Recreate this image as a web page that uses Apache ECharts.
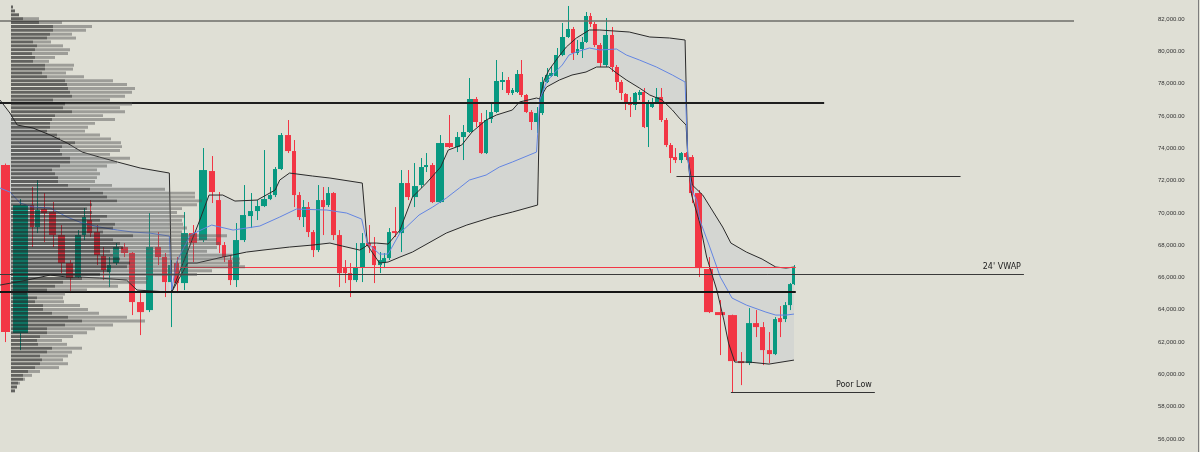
<!DOCTYPE html>
<html><head><meta charset="utf-8">
<script src="https://cdn.jsdelivr.net/npm/echarts/dist/echarts.min.js"></script>
<style>html,body{margin:0;padding:0;background:#dfdfd5;}#c{width:1200px;height:452px;}</style>
</head><body><div id="c"></div>
<script>
// ---- candles: [open, close, low, high] ----
const candles = [
[72960,62619,62000,73050],[62557,70483,61504,70850],[70483,69121,67882,71597],[69121,70173,68749,72031],[70235,69988,68192,71226],
[70049,68625,67882,70668],[68625,66892,66272,69245],[66892,65963,65034,67077],[66025,68625,65963,68935],[68625,69740,68316,70297],
[69554,68749,68501,70792],[68811,67387,66768,69245],[67325,66458,65839,67882],[66334,66768,65406,67263],[66892,67882,66768,68130],
[67882,67511,67263,68130],[67511,64477,63672,67573],[64477,63857,62433,65034],[63981,67882,63857,69988],[67882,67263,66768,68811],
[67263,65715,64786,67511],[65715,66768,62929,67077],[66892,65653,65034,67263],[65653,68749,65220,70049],[68749,68130,66954,69245],
[68316,72650,68192,74012],[72588,71288,70607,73517],[70792,68006,67511,71288],[68006,67263,66954,68192],[67077,65839,65529,67387],
[65839,68316,65406,69368],[68316,69864,68192,71721],[69802,70111,69059,71226],[70111,70421,69554,70792],[70421,70854,70359,73888],
[70854,71102,70792,71597],[71102,72712,70978,72836],[72712,74817,72650,74941],[74817,73826,73702,75746],[73826,71102,70359,74508],
[71102,69740,69554,71288],[69740,70359,69121,70792],[70359,68811,68501,70668],[68811,67696,67263,68935],[67696,70792,67573,71721],
[70792,70359,68625,71597],[70483,71226,70359,71597],[71226,68625,68316,71288],[68625,66272,65406,68935],[66582,66272,65653,67077],
[66272,65839,64786,66892],[65839,66644,65715,68130],[66644,68130,65715,68749],[68130,67944,67511,69245],[67944,66768,65653,68501],
[66768,67077,66272,67573],[66892,67201,66582,67511],[67201,68811,67077,69059],[68873,68749,68501,70359],[68749,71845,67573,72650],
[71845,70978,70792,72650],[70978,71659,70359,73083],[71721,72836,71536,73393],[72836,72960,72526,73702],[72960,70668,70607,73083],
[70668,74322,70607,74817],[74322,74074,74012,76056],[74074,74693,73764,75003],[74693,75003,73269,75436],[75003,77046,74941,78347],
[77046,75622,75312,77170],[75622,73702,73640,76179],[73702,75746,73640,76365],[75808,76241,75560,76799],[76241,78161,76179,79461],
[78099,78223,77604,78718],[78223,77418,77294,78409],[77418,77604,77294,77728],[77480,78594,77418,78842],[78594,77294,77170,79461],
[77294,76241,76179,77356],[76241,75622,75127,76365],[75622,76179,74941,76551],[76179,78099,76056,78409],[78099,78532,78037,78966],
[78470,78656,78409,79028],[78470,79771,78409,80204],[79771,80885,79700,81752],[80885,81381,80824,82805],[81381,79895,79461,81505],
[79895,80142,79771,80700],[80142,80576,79585,80885],[80576,82186,80514,82433],[82186,81690,81505,82372],[81690,80390,80266,81814],
[80390,79276,79028,80514],[79152,81009,79028,82062],[81009,79028,78718,81505],[79028,78099,77604,79152],[78099,77418,76984,78223],
[77356,76861,76365,77418],[76861,76675,75932,77170],[76675,77418,76365,77480],[77294,77480,76984,77604],[77480,75312,75250,77728],
[75312,76861,74074,76984],[76551,76861,76489,77108],[76861,77170,76799,77728],[77170,75746,75622,77728],[75746,74198,74074,75870],
[74198,73393,72464,74322],[73455,73269,73083,74012],[73269,73702,73083,73764],[73702,73455,73269,73764],[73455,71226,70607,73579],
[71226,66582,66025,71412],[66520,63857,63795,67263],[63857,63672,61195,64600],[63672,60823,58904,63700],[60823,60700,59337,61381],
[60700,63176,60576,64105],[63176,62929,62309,63981],[62929,61504,60576,63238],[61504,61257,60700,62619],[61257,63424,61195,63548],
[63486,63238,62309,64229],[63424,64291,63238,64477],[64291,65591,63981,65653],[65591,66644,65529,66768]
];
// relative volume of each candle (volume candles: width follows volume)
const volumes = [
11,18.5,5,6,8,8.5,8.5,8.5,7.5,5.5,
6,7.5,6,5.5,8,8.5,7.5,9,9,7.5,
6.5,5.5,6.5,8.5,9.5,10,8,6,5.5,5.5,
7,8,6.5,6,7,5.5,5,6.5,7,5.5,
4.5,4.5,4.5,5,5.5,5,4.5,6,6,5,
5.5,6.5,6.5,6,5.5,5,4.5,5,6.5,6.5,
6.5,7,6,5,6,9.5,9.5,6,6,7,
6,5,4.5,5,6,6,5,4,4.5,5,
5,5,5.5,5,4.5,5,5.5,6,5.5,4.5,
4,4.5,4.5,4,4.5,6,6.5,5,4.5,4.5,
4.5,5,4.5,4.5,4,4,4.5,4.5,5,4.5,
4.5,5.5,5.5,5,6,8.5,11,12.5,11,7.5,
7,7.5,6.5,6,5.5,5,5,4.5,4
];
const futureBars = 57;

// ---- anchored VWAP + bands, points are [barIndex, price] ----
const upperA = [[-0.5,76984],[0.3,76179],[0.8,75436],[2.2,75250],[4.7,74817],[6.7,74322],[8.7,73764],[11.4,73455],[14.2,73145],[17,72774],[20.8,72464]];
const lowerA = [[-0.5,65529],[1.6,65839],[4.7,66149],[6.7,66025],[8.3,66025],[11.4,65963],[15.3,65839],[16.6,65220],[20.8,65096]];
const vwapA  = [[-0.5,71536],[0.3,71288],[1,70607],[2.2,70359],[4.7,70297],[6.7,69740],[8.7,69368],[11.4,69121],[14.2,68935],[16.1,68811],[18,68749],[20.8,68563]];
const upperB = [[21.2,65096],[24.7,69554],[25.7,71102],[27.7,71102],[29.8,70730],[33,70792],[34.4,71102],[36,71412],[36.8,72031],[38.3,72464],[43,72279],[46.4,72155],[52,71845]];
const lowerB = [[21.2,65096],[23.4,66892],[24.4,66892],[27.7,67263],[31.4,67573],[33.9,67696],[38.3,67882],[43,68006],[46.4,68130],[48.6,67944],[51.6,67696],[52.4,67882]];
const vwapB  = [[21.2,65220],[22,66954],[23.7,68625],[25.5,69121],[26,69245],[29.5,68935],[33.4,69183],[36.8,69740],[39.5,70235],[45.8,70173],[49.4,69988],[51.9,69616]];
const upperC = [[52.8,68130],[54.4,68130],[56.8,68068],[58.8,68935],[60.7,70978],[63,71845],[65.1,72836],[65.9,73888],[67.8,74198],[69.4,75003],[72,75746],[74,76056],[77,76365],[78.6,76861],[82,77108]];
const lowerC = [[52.8,68006],[55,66892],[56.8,66954],[58.8,67263],[60.7,67573],[65.7,68749],[68.6,69245],[73.3,69740],[77,70049],[82.2,70483]];
const vwapC  = [[52.8,68130],[55,67449],[56.8,67449],[58.8,68749],[59.8,69121],[61.7,69864],[64.1,70359],[65.7,70916],[67.4,71536],[69,72031],[72,72341],[74.5,72836],[77,73145],[82,73764]];
const upperD = [[82.6,77046],[83.5,78223],[84.5,78842],[86.2,79585],[87.7,80266],[89.8,80824],[92.8,81319],[95,81319],[100.8,81195],[105.5,80885],[109.8,80824],[112.8,80700]];
const lowerD = [[82.6,77046],[84,77790],[86.5,78223],[88.8,78532],[92,78718],[94.4,79028],[96.5,79028],[98,78656],[100.2,78223],[103,77728],[105.5,77294],[108.2,76984],[110.4,76365],[111.7,75870],[113,75436]];
const vwapD  = [[82.6,76984],[84,78099],[85.2,78532],[87,79152],[88.2,79771],[89.8,79957],[92.8,80204],[95,80080],[98,80142],[100.2,79771],[103,79461],[107,79028],[110.4,78532],[112.8,78099]];
const upperE = [[113.3,73455],[114.1,71721],[115.4,71102],[116.3,70173],[117.2,69121],[117.9,68130],[119.7,67573],[121.9,67139],[124.2,66644],[126.2,66582],[128,66644]];
const lowerE = [[113.3,73455],[114,71102],[115.1,69368],[115.8,67263],[116.7,65220],[117.3,63362],[117.7,61938],[118.3,60761],[120.1,60761],[123,60638],[128,60885]];
const vwapE  = [[113.3,73455],[114,71412],[114.7,70792],[115.1,69554],[116.1,67882],[117,66025],[118,64724],[119.7,64291],[122.5,63857],[124.2,63672],[126.2,63672],[128,63734]];

// ---- volume profile (price bins from top) ----
const vpTop = 82740, vpBinSize = 240;
const vpDark = [2,4,8,12,28,42,42,39,36,22, 26,24,21,24,22,34,34,31,36,54, 56,57,59,61,42,54,52,61,44,41,
 39,39,36,46,49,64,51,49,51,59, 59,49,41,44,47,47,57,79,92,96, 106,81,76,81,96,89,104,102,92,122,
 102,109,112,99,102,109,119,116,99,89, 71,52,44,36,16,26,24,32,32,41, 57,71,54,36,36,29,26,27,41,36,
 29,31,29,24,17,12,12,7,6,4];
const vpLight = [0,0,0,16,23,39,33,22,29,18, 26,35,36,20,16,29,28,24,37,48, 60,67,62,53,57,67,57,53,48,63,
 45,38,38,43,51,46,60,60,48,60, 47,47,45,45,39,37,44,75,92,88, 85,105,95,85,78,82,68,74,79,94,
 104,100,94,97,119,120,110,118,102,97, 66,84,63,40,38,26,29,37,45,47, 59,63,48,48,40,33,25,29,30,25,
 28,21,28,24,12,9,2,2,0,0];

// ---- horizontal levels: [startBar, endBar, price] ----
const levels = [[-0.5,174.4,81900],[-0.5,133,76820],[111.2,155.6,72280],[22.5,128.3,66660],[-0.5,166.1,66190],[-0.5,128.3,65100],[117.9,141.4,58890]];
const levelLabels = ['', '', '', '', "24' VWAP", '', 'Poor Low'];
const priceMin = 56000, priceMax = 82000, priceStep = 2000;

// ---------- build ----------
const centers = []; let acc = 0;
volumes.forEach(v => { centers.push(acc + v / 2); acc += v; });
const totalVol = acc;
const avgVol = (totalVol - volumes[0] - volumes[1]) / (volumes.length - 2);
const xMax = totalVol + futureBars * avgVol;
function barX(k) {
  const n = centers.length;
  if (k <= 0) return centers[0] + k * volumes[0];
  if (k >= n - 1) return centers[n - 1] + (k - (n - 1)) * avgVol;
  const i = Math.floor(k), f = k - i;
  return centers[i] + f * (centers[i + 1] - centers[i]);
}
const toXY = pts => pts.map(p => [barX(p[0]), p[1]]);
const bands = [[upperA, lowerA], [upperB, lowerB], [upperC, lowerC], [upperD, lowerD], [upperE, lowerE]];
const upperAll = toXY([].concat(upperA, upperB, upperC, upperD, upperE));
const lowerAll = toXY([].concat(lowerA, lowerB, lowerC, lowerD, lowerE));
const vwapAll = toXY([].concat(vwapA, vwapB, vwapC, vwapD, vwapE));

const UP = '#089981', DOWN = '#f23645';
const levelStyles = [
  {color:'#6e6e68', width:1.5}, {color:'#1e1e1e', width:2}, {color:'#333', width:1},
  {color:'#f23645', width:1}, {color:'#3a3a3a', width:1}, {color:'#151515', width:2}, {color:'#333', width:1}
];

const chart = echarts.init(document.getElementById('c'));
chart.setOption({
  backgroundColor: '#dfdfd5',
  animation: false,
  grid: [
    {left: 0, right: 60, top: 19, bottom: 13},
    {left: 11, width: 400, top: 19, bottom: 13}
  ],
  xAxis: [
    {type: 'value', gridIndex: 0, min: 0, max: xMax, show: false},
    {type: 'value', gridIndex: 1, min: 0, max: 400, show: false}
  ],
  yAxis: [
    {type: 'value', gridIndex: 0, position: 'right', min: priceMin, max: priceMax, interval: priceStep,
     splitLine: {show: false}, axisLine: {show: false}, axisTick: {show: false},
     axisLabel: {show: true, margin: 18, align: 'left', color: '#333', fontSize: 6, fontFamily: 'Liberation Sans',
       showMinLabel: true, showMaxLabel: true,
       formatter: v => v.toLocaleString('en-US', {minimumFractionDigits: 2, maximumFractionDigits: 2})}},
    {type: 'value', gridIndex: 1, min: priceMin, max: priceMax, show: false}
  ],
  graphic: [{type: 'rect', shape: {x: 1198, y: 0, width: 1, height: 452}, style: {fill: '#7d7d7d'}, z: 100}],
  series: [
    { // band fills
      type: 'custom', xAxisIndex: 0, yAxisIndex: 0, z: 1, silent: true, clip: false,
      data: bands.map((b, i) => [barX(b[0][0][0]), b[0][0][1], i]),
      encode: {x: 0, y: 1},
      renderItem: (params, api) => {
        const b = bands[params.dataIndex];
        const pts = b[0].map(p => api.coord([barX(p[0]), p[1]]))
          .concat(b[1].slice().reverse().map(p => api.coord([barX(p[0]), p[1]])));
        return {type: 'polygon', shape: {points: pts}, style: {fill: 'rgba(190,194,204,0.30)'}};
      }
    },
    { // candles
      type: 'custom', xAxisIndex: 0, yAxisIndex: 0, z: 3, clip: false,
      data: candles.map((d, i) => [centers[i], d[0], d[1], d[2], d[3], volumes[i]]),
      encode: {x: 0, y: [1, 2, 3, 4]},
      renderItem: (params, api) => {
        const x = api.value(0), o = api.value(1), c = api.value(2), l = api.value(3), h = api.value(4), w = api.value(5);
        const pO = api.coord([x, o]), pC = api.coord([x, c]), pL = api.coord([x, l]), pH = api.coord([x, h]);
        const bw = Math.max(2, api.size([w * 0.8, 0])[0]);
        const col = c >= o ? UP : DOWN;
        const top = Math.min(pO[1], pC[1]);
        const bh = Math.max(1, Math.abs(pO[1] - pC[1]));
        const wx = Math.round(pO[0]) + 0.5;
        return {type: 'group', children: [
          {type: 'line', shape: {x1: wx, y1: pH[1], x2: wx, y2: pL[1]}, style: {stroke: col, lineWidth: 1}},
          {type: 'rect', shape: {x: Math.round(pO[0] - bw / 2), y: top, width: Math.round(bw), height: bh}, style: {fill: col}}
        ]};
      }
    },
    {type: 'line', xAxisIndex: 0, yAxisIndex: 0, z: 4, data: upperAll, showSymbol: false, silent: true,
     lineStyle: {color: '#2a2a2a', width: 1}},
    {type: 'line', xAxisIndex: 0, yAxisIndex: 0, z: 4, data: lowerAll, showSymbol: false, silent: true,
     lineStyle: {color: '#2a2a2a', width: 1}},
    {type: 'line', xAxisIndex: 0, yAxisIndex: 0, z: 4, data: vwapAll, showSymbol: false, silent: true,
     lineStyle: {color: '#6385e2', width: 1}},
    { // volume profile
      type: 'custom', xAxisIndex: 1, yAxisIndex: 1, z: 5, silent: true, clip: false,
      data: vpDark.map((d, i) => [0, vpTop - i * vpBinSize, d, vpLight[i]]),
      encode: {x: 0, y: 1},
      renderItem: (params, api) => {
        const p = api.value(1), d = api.value(2), lt = api.value(3);
        const a = api.coord([0, p + vpBinSize * 0.38]);
        const b = api.coord([d, p - vpBinSize * 0.38]);
        const e = api.coord([d + lt, p]);
        const y = a[1], hgt = Math.max(1.5, b[1] - a[1]);
        const kids = [];
        if (d > 0) kids.push({type: 'rect', shape: {x: a[0], y, width: b[0] - a[0], height: hgt}, style: {fill: 'rgba(35,35,35,0.66)'}});
        if (lt > 0) kids.push({type: 'rect', shape: {x: b[0], y, width: e[0] - b[0], height: hgt}, style: {fill: 'rgba(85,85,85,0.48)'}});
        return {type: 'group', children: kids};
      }
    },
    { // horizontal levels
      type: 'line', xAxisIndex: 0, yAxisIndex: 0, z: 6, data: [], silent: true,
      markLine: {
        silent: true, symbol: ['none', 'none'], animation: false,
        data: levels.map((lv, i) => [
          {coord: [barX(lv[0]), lv[2]], lineStyle: {color: levelStyles[i].color, width: levelStyles[i].width, type: 'solid'},
           label: levelLabels[i] ? {show: true, formatter: levelLabels[i], position: 'insideEndTop', color: '#222',
             fontSize: 8, fontFamily: 'DejaVu Sans', distance: 3} : {show: false}},
          {coord: [barX(lv[1]), lv[2]]}
        ])
      }
    }
  ]
});
</script>
</body></html>
